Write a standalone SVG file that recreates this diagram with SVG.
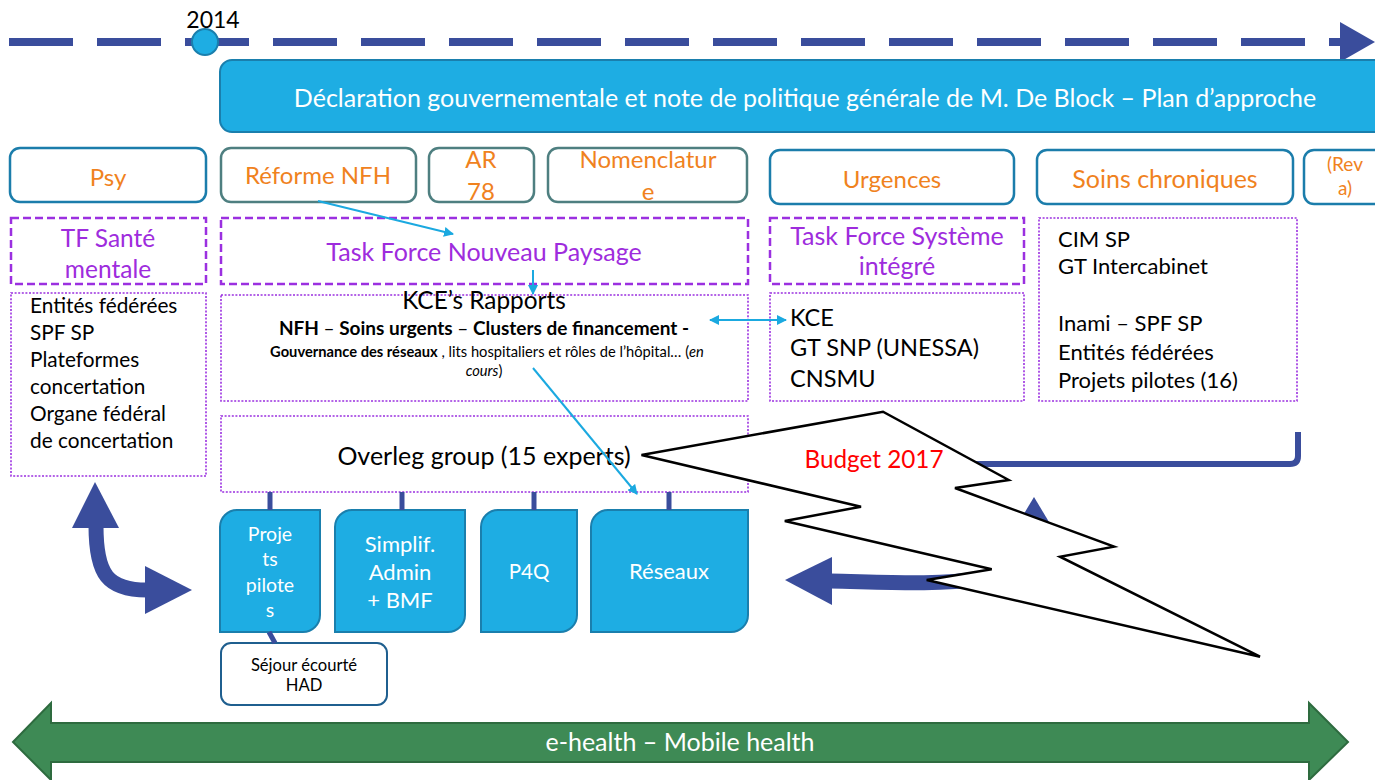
<svg xmlns="http://www.w3.org/2000/svg" width="1375" height="780" viewBox="0 0 1375 780">
<defs>
<style>
text{font-family:Lato,"Open Sans","Liberation Sans",sans-serif;}
.topic{fill:#fff;stroke-width:2.5;}
.tb{stroke:#1B7DAB;}
.tg{stroke:#4E7F80;}
.or{fill:#F0821E;font-size:24px;text-anchor:middle;}
.tf{fill:#fff;stroke:#9B30E0;stroke-width:2.5;stroke-dasharray:8 4;}
.pu{fill:#9E2CDD;font-size:24.5px;text-anchor:middle;}
.dot{fill:#fff;stroke:#9B30E0;stroke-width:1.6;stroke-dasharray:2 1.6;}
.bk{fill:#000;}
.blue{fill:#1EADE3;stroke:#1A7FAD;stroke-width:2;}
.wt{fill:#fff;text-anchor:middle;}
.bar{stroke:#3A4D9C;stroke-width:5;fill:none;}
.cy{stroke:#1BA9E0;stroke-width:2;fill:none;}
.dk{fill:#3A4D9C;}
</style>
<marker id="ah" viewBox="0 0 10 10" refX="9" refY="5" markerWidth="5" markerHeight="5" orient="auto-start-reverse" markerUnits="strokeWidth">
<path d="M0 0 L10 5 L0 10 Z" fill="#1BA9E0"/>
</marker>
</defs>

<g id="timeline">
<line x1="9" y1="42" x2="1340" y2="42" stroke="#3A4D9C" stroke-width="8" stroke-dasharray="64 24"/>
<polygon points="1340,22 1375,42 1340,62" fill="#3A4D9C"/>
<circle cx="205" cy="42" r="13" fill="#1EADE3" stroke="#1A7FAD" stroke-width="2"/>
<text x="213" y="28" font-size="23" text-anchor="middle" class="bk">2014</text>
</g>

<g id="declaration">
<rect x="220" y="60" width="1175" height="72" rx="12" class="blue"/>
<text x="805" y="107" font-size="25" class="wt">Déclaration gouvernementale et note de politique générale de M. De Block – Plan d’approche</text>
</g>

<g id="psy"><rect x="10" y="148" width="196" height="54" rx="10" class="topic tb"/><text x="108" y="186" class="or">Psy</text></g>
<g id="reforme-nfh"><rect x="221" y="148" width="195" height="54" rx="10" class="topic tg"/><text x="318" y="184" class="or">Réforme NFH</text></g>
<g id="ar78"><rect x="429" y="148" width="105" height="54" rx="10" class="topic tg"/><text x="481" y="168" class="or">AR</text><text x="481" y="200" class="or">78</text></g>
<g id="nomenclature"><rect x="548" y="148" width="199" height="54" rx="10" class="topic tg"/><text x="648" y="168" class="or">Nomenclatur</text><text x="648" y="200" class="or">e</text></g>
<g id="urgences"><rect x="770" y="150" width="244" height="54" rx="10" class="topic tb"/><text x="892" y="188" class="or">Urgences</text></g>
<g id="soins-chroniques"><rect x="1037" y="150" width="256" height="54" rx="10" class="topic tb"/><text x="1165" y="188" class="or" style="font-size:25px">Soins chroniques</text></g>
<g id="reva"><rect x="1304" y="150" width="90" height="54" rx="10" class="topic tb"/><text x="1345" y="171" class="or" style="font-size:19px">(Rev</text><text x="1345" y="195" class="or" style="font-size:19px">a)</text></g>

<g id="tf-sante"><rect x="11" y="218" width="195" height="66" class="tf"/><text x="108" y="247" class="pu">TF Santé</text><text x="108" y="278" class="pu">mentale</text></g>
<g id="tf-paysage"><rect x="221" y="218" width="527" height="66" class="tf"/><text x="484" y="261" class="pu" style="font-size:25px">Task Force Nouveau Paysage</text></g>
<g id="tf-systeme"><rect x="770" y="218" width="254" height="66" class="tf"/><text x="897" y="245" class="pu" style="font-size:25px">Task Force Système</text><text x="897" y="275" class="pu" style="font-size:25px">intégré</text></g>

<g id="chron-list"><rect x="1039" y="218" width="258" height="183" class="dot"/>
<g font-size="22" class="bk">
<text x="1058" y="247">CIM SP</text><text x="1058" y="274">GT Intercabinet</text>
<text x="1058" y="331">Inami – SPF SP</text><text x="1058" y="360">Entités fédérées</text><text x="1058" y="388">Projets pilotes (16)</text>
</g></g>

<g id="psy-list"><rect x="11" y="293" width="195" height="183" class="dot"/>
<g font-size="20.8" class="bk">
<text x="30" y="313">Entités fédérées</text><text x="30" y="340">SPF SP</text><text x="30" y="367">Plateformes</text>
<text x="30" y="394">concertation</text><text x="30" y="421">Organe fédéral</text><text x="30" y="448">de concertation</text>
</g></g>

<g id="kce-rapports"><rect x="221" y="295" width="527" height="106" class="dot"/>
<text x="484" y="309" font-size="24.4" text-anchor="middle" class="bk">KCE’s Rapports</text>
<text x="484" y="335" font-size="19" font-weight="bold" text-anchor="middle" class="bk">NFH <tspan font-weight="normal">–</tspan> Soins urgents <tspan font-weight="normal">–</tspan> Clusters de financement -</text>
<text x="487" y="357" font-size="14.7" text-anchor="middle" class="bk"><tspan font-weight="bold">Gouvernance des réseaux</tspan> , lits hospitaliers et rôles de l’hôpital… (<tspan font-style="italic">en</tspan></text>
<text x="484" y="376" font-size="14.7" text-anchor="middle" class="bk"><tspan font-style="italic">cours</tspan>)</text>
</g>

<g id="urg-list"><rect x="770" y="293" width="254" height="108" class="dot"/>
<g font-size="23.5" class="bk"><text x="790" y="326">KCE</text><text x="790" y="356">GT SNP (UNESSA)</text><text x="790" y="387">CNSMU</text></g>
</g>

<g id="overleg"><rect x="221" y="416" width="527" height="76" class="dot"/>
<text x="484" y="465" font-size="25" text-anchor="middle" class="bk">Overleg group (15 experts)</text></g>

<g id="projets-pilotes"><path d="M237 510 H320 V615 A17 17 0 0 1 303 632 H220 V527 A17 17 0 0 1 237 510 Z" class="blue"/>
<g font-size="19.5" class="wt"><text x="270" y="541">Proje</text><text x="270" y="566">ts</text><text x="270" y="592">pilote</text><text x="270" y="617">s</text></g></g>
<g id="simplif"><path d="M352 510 H465 V615 A17 17 0 0 1 448 632 H335 V527 A17 17 0 0 1 352 510 Z" class="blue"/>
<g font-size="22" class="wt"><text x="400" y="552">Simplif.</text><text x="400" y="580">Admin</text><text x="400" y="608">+ BMF</text></g></g>
<g id="p4q"><path d="M498 510 H577 V615 A17 17 0 0 1 560 632 H481 V527 A17 17 0 0 1 498 510 Z" class="blue"/>
<text x="529" y="579" font-size="20.5" class="wt">P4Q</text></g>
<g id="reseaux"><path d="M608 510 H748 V615 A17 17 0 0 1 731 632 H591 V527 A17 17 0 0 1 608 510 Z" class="blue"/>
<text x="669" y="579" font-size="22" class="wt">Réseaux</text></g>

<g id="sejour"><rect x="221" y="643" width="166" height="62" rx="10" fill="#fff" stroke="#1F5F8F" stroke-width="2"/>
<text x="304" y="671" font-size="16.6" text-anchor="middle" class="bk">Séjour écourté</text>
<text x="304" y="691" font-size="16.6" text-anchor="middle" class="bk">HAD</text></g>

<g id="connectors">
<line x1="270" y1="492" x2="270" y2="510" class="bar"/>
<line x1="402" y1="492" x2="402" y2="510" class="bar"/>
<line x1="534" y1="492" x2="534" y2="510" class="bar"/>
<line x1="669" y1="492" x2="669" y2="510" class="bar"/>
<line x1="269" y1="632" x2="275" y2="643" class="bar"/>
<path d="M960 464 H1290 Q1298 464 1298 456 V432" stroke="#3A4D9C" stroke-width="6" fill="none"/>
<line x1="318" y1="201" x2="453" y2="234" class="cy" marker-end="url(#ah)"/>
<line x1="533" y1="270" x2="533" y2="294" class="cy" marker-end="url(#ah)"/>
<line x1="533" y1="368" x2="637" y2="494" class="cy" marker-end="url(#ah)"/>
<line x1="710" y1="320" x2="786" y2="320" class="cy" marker-start="url(#ah)" marker-end="url(#ah)"/>
<path d="M96 526 C96 575 108 590 147 590" stroke="#3A4D9C" stroke-width="15" fill="none"/>
<polygon points="95,482 72,528 119,528" class="dk"/>
<polygon points="192,590 145,566 145,614" class="dk"/>
<path d="M830 581 C930 583 1030 592 1034 535" stroke="#3A4D9C" stroke-width="15" fill="none"/>
<polygon points="785,580 832,557 832,605" class="dk"/>
<polygon points="1034,497 1010,537 1058,537" class="dk"/>
</g>

<g id="budget">
<polygon points="641.5,455 883,411.7 1008.7,480 955,488 1114,546.7 1060,556.7 1260,656.7 926.7,580 991.7,569.3 784.8,521 861,506.7" fill="#fff" stroke="#000" stroke-width="2.5" stroke-linejoin="miter"/>
<text x="874" y="468" font-size="24.3" text-anchor="middle" fill="#FF0000">Budget 2017</text>
</g>

<g id="ehealth">
<polygon points="13,742 51,703 51,723 1309,723 1309,703 1348,742 1309,780 1309,762 51,762 51,780" fill="#3E8A55" stroke="#2E6B3F" stroke-width="2"/>
<text x="680" y="751" font-size="25" class="wt">e-health – Mobile health</text>
</g>
</svg>
